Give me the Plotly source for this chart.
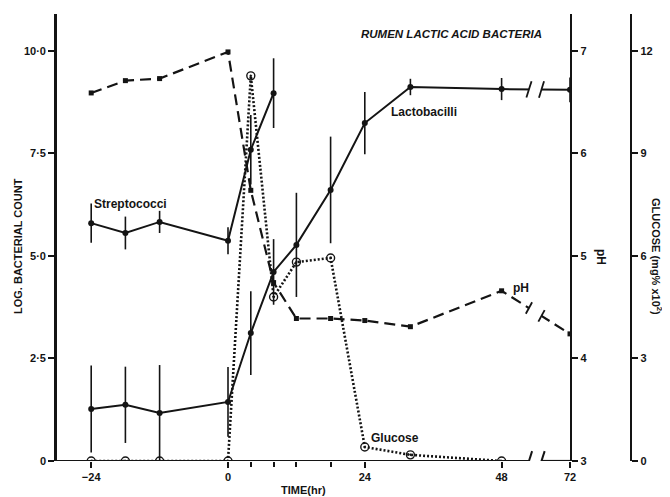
import plotly.graph_objects as go

# ---------------- data ----------------
lacto_t = [-24, -18, -12, 0, 4, 8, 12, 18, 24, 32, 48, 72]
lacto = [1.27, 1.37, 1.17, 1.44, 3.12, 4.61, 5.27, 6.61, 8.24, 9.12, 9.07, 9.05]
lacto_err = [1.06, 0.93, 1.17, 0.85, 1.02, 0.80, 1.27, 1.30, 0.76, 0.20, 0.27, 0.30]

strep_t = [-24, -18, -12, 0, 4, 8]
strep = [5.80, 5.56, 5.83, 5.37, 7.59, 8.97]
strep_err = [0.48, 0.40, 0.27, 0.33, 0.85, 0.85]

ph_t = [-24, -18, -12, 0, 4, 8, 12, 18, 24, 32, 48, 72]
ph = [6.59, 6.71, 6.73, 6.99, 5.64, 4.74, 4.39, 4.39, 4.37, 4.31, 4.66, 4.24]

glu_t = [-24, -18, -12, 0, 4, 8, 12, 18, 24, 32, 48]
glucose = [0, 0, 0, 0, 11.27, 4.80, 5.82, 5.94, 0.41, 0.18, 0]  # mg% x10^2

x_tick_hours = [-24, 0, 24, 48, 72]
x_tick_labels = ["\u221224", "0", "24", "48", "72"]
minor_hours = [4, 8, 12, 18]
left_ticks = [0, 2.5, 5, 7.5, 10]
left_tick_labels = ["0", "2\u00b75", "5\u00b70", "7\u00b75", "10\u00b70"]
ph_ticks = [3, 4, 5, 6, 7]
glu_ticks = [0, 3, 6, 9, 12]


# broken time axis: 48 -> 72 is compressed to half scale
def tpos(t):
    return t if t <= 48 else 48 + (t - 48) / 2.0


X_RANGE = [-30, 60]
Y_RANGE = [0, 10.9]
PH_RANGE = [3, 3 + Y_RANGE[1] / 2.5]
GLU_RANGE = [0, Y_RANGE[1] * 1.2]
BRK_LO, BRK_HI = 52.8, 55.0

INK = "#141414"
FONT = "Liberation Sans"
bold = dict(family=FONT, size=11, color=INK, weight="bold")
bold12 = dict(family=FONT, size=12, color=INK, weight="bold")

# page body has an 8px margin: figure is drawn at (8, 8) in the window
OFF = 8
W, H = 670 - OFF, 497 - OFF
ML, MT, MB = 57 - OFF, 14 - OFF, 36
MR = 30
PW = W - ML - MR          # paper width
PH_ = H - MT - MB         # plot height (447)

fig = go.Figure()

# Streptococci
fig.add_trace(go.Scatter(
    x=[tpos(t) for t in strep_t], y=strep, mode="lines+markers",
    line=dict(color=INK, width=2), marker=dict(size=6, color=INK),
    error_y=dict(type="data", array=strep_err, width=0, thickness=1.6, color=INK),
    yaxis="y", showlegend=False))

# Lactobacilli
fig.add_trace(go.Scatter(
    x=[tpos(t) for t in lacto_t], y=lacto, mode="lines+markers",
    line=dict(color=INK, width=2), marker=dict(size=6, color=INK),
    error_y=dict(type="data", array=lacto_err, width=0, thickness=1.6, color=INK),
    yaxis="y", showlegend=False))

# pH
fig.add_trace(go.Scatter(
    x=[tpos(t) for t in ph_t], y=ph, mode="lines+markers",
    line=dict(color=INK, width=2.2, dash="11px,6px"),
    marker=dict(size=5, color=INK, symbol="square"),
    yaxis="y2", showlegend=False))

# Glucose
fig.add_trace(go.Scatter(
    x=[tpos(t) for t in glu_t], y=glucose, mode="lines+markers",
    line=dict(color=INK, width=2.6, dash="2px,2px"),
    marker=dict(size=8, color=INK, symbol="circle-open-dot",
                line=dict(color=INK, width=1.4)),
    yaxis="y3", showlegend=False))

shapes = []
# x axis line, broken between 48 and 72
shapes.append(dict(type="line", xref="x", yref="y", x0=-30.6, x1=BRK_LO, y0=0, y1=0,
                   line=dict(color=INK, width=2.2)))
shapes.append(dict(type="line", xref="x", yref="y", x0=BRK_HI, x1=X_RANGE[1], y0=0, y1=0,
                   line=dict(color=INK, width=2.2)))

# masks for the gaps in the lactobacilli and pH lines
ph_lo = (min(ph[-2], ph[-1]) - 3) * 2.5
ph_hi = (max(ph[-2], ph[-1]) - 3) * 2.5
for ylo, yhi in [(lacto[-2] - 0.12, lacto[-1] + 0.12), (ph_lo + 0.05, ph_hi - 0.05)]:
    shapes.append(dict(type="rect", xref="x", yref="y", x0=BRK_LO, x1=BRK_HI,
                       y0=ylo, y1=yhi, fillcolor="white", line=dict(width=0), layer="above"))

# slashes ( // ) on the x axis and on the lactobacilli line, bars on the pH line
for xb in (BRK_LO, BRK_HI):
    shapes.append(dict(type="line", xref="x", yref="y", x0=xb - 0.55, x1=xb + 0.55,
                       y0=-0.24, y1=0.24, line=dict(color=INK, width=2)))
    yl = lacto[-2] + (lacto[-1] - lacto[-2]) * (xb - 48) / 12
    shapes.append(dict(type="line", xref="x", yref="y", x0=xb - 0.45, x1=xb + 0.45,
                       y0=yl - 0.2, y1=yl + 0.2, line=dict(color=INK, width=1.8)))
    yp = ((ph[-2] + (ph[-1] - ph[-2]) * (xb - 48) / 12) - 3) * 2.5
    shapes.append(dict(type="line", xref="x", yref="y", x0=xb + 0.55, x1=xb - 0.55,
                       y0=yp + 0.14, y1=yp - 0.14, line=dict(color=INK, width=1.8)))

fig.update_layout(shapes=shapes)


def px_x(px):
    return (px - 57) / float(PW)


def px_y(py):
    return (461 - py) / float(PH_)


def pann(text, px, py, font, angle=0):
    return dict(text=text, x=px_x(px), y=px_y(py), xref="paper", yref="paper",
                xanchor="center", yanchor="middle", textangle=angle,
                showarrow=False, font=font)


ann = [
    pann("RUMEN LACTIC ACID BACTERIA", 451, 34,
         dict(family=FONT, size=11.5, color=INK, weight="bold", style="italic")),
    pann("LOG. BACTERIAL COUNT", 18, 246, bold, -90),
    pann("pH", 601, 257, bold12, 90),
    pann("GLUCOSE (mg% x10<sup>2</sup>)", 657, 256, bold, 90),
    pann("TIME(hr)", 303, 490, bold),
    dict(text="Streptococci", x=-23.9, y=6.27, xref="x", yref="y", xanchor="left",
         yanchor="middle", showarrow=False, font=bold12),
    dict(text="Lactobacilli", x=28.2, y=8.51, xref="x", yref="y", xanchor="left",
         yanchor="middle", showarrow=False, font=bold12),
    dict(text="pH", x=49.6, y=4.22, xref="x", yref="y", xanchor="left",
         yanchor="middle", showarrow=False, font=bold12),
    dict(text="Glucose", x=24.8, y=0.56, xref="x", yref="y", xanchor="left",
         yanchor="middle", showarrow=False, font=bold12),
]

axis_common = dict(showgrid=False, zeroline=False, automargin=False, ticks="outside",
                   tickcolor=INK, tickwidth=2, ticklen=6, linecolor=INK, tickfont=bold)

fig.update_layout(
    width=W, height=H,
    margin=dict(l=ML, r=MR, t=MT, b=MB),
    paper_bgcolor="white", plot_bgcolor="white",
    annotations=ann,
    xaxis=dict(domain=[0, 513 / float(PW)], range=X_RANGE, showline=False,
               tickmode="array", tickvals=[tpos(t) for t in x_tick_hours], ticktext=x_tick_labels,
               minor=dict(tickmode="array", tickvals=minor_hours, ticks="outside", ticklen=5,
                          tickcolor=INK, tickwidth=1.5),
               **axis_common),
    yaxis=dict(range=Y_RANGE, showline=True, linewidth=2.6, tickmode="array",
               tickvals=left_ticks, ticktext=left_tick_labels, **axis_common),
    yaxis2=dict(range=PH_RANGE, overlaying="y", side="right", anchor="x", showline=True,
                linewidth=2.4, tickmode="array", tickvals=ph_ticks, **axis_common),
    yaxis3=dict(range=GLU_RANGE, overlaying="y", side="right", anchor="free",
                position=(631 - 57) / float(PW), showline=True, linewidth=2.4,
                tickmode="array", tickvals=glu_ticks, **axis_common),
)

fig.write_html("out.html")
